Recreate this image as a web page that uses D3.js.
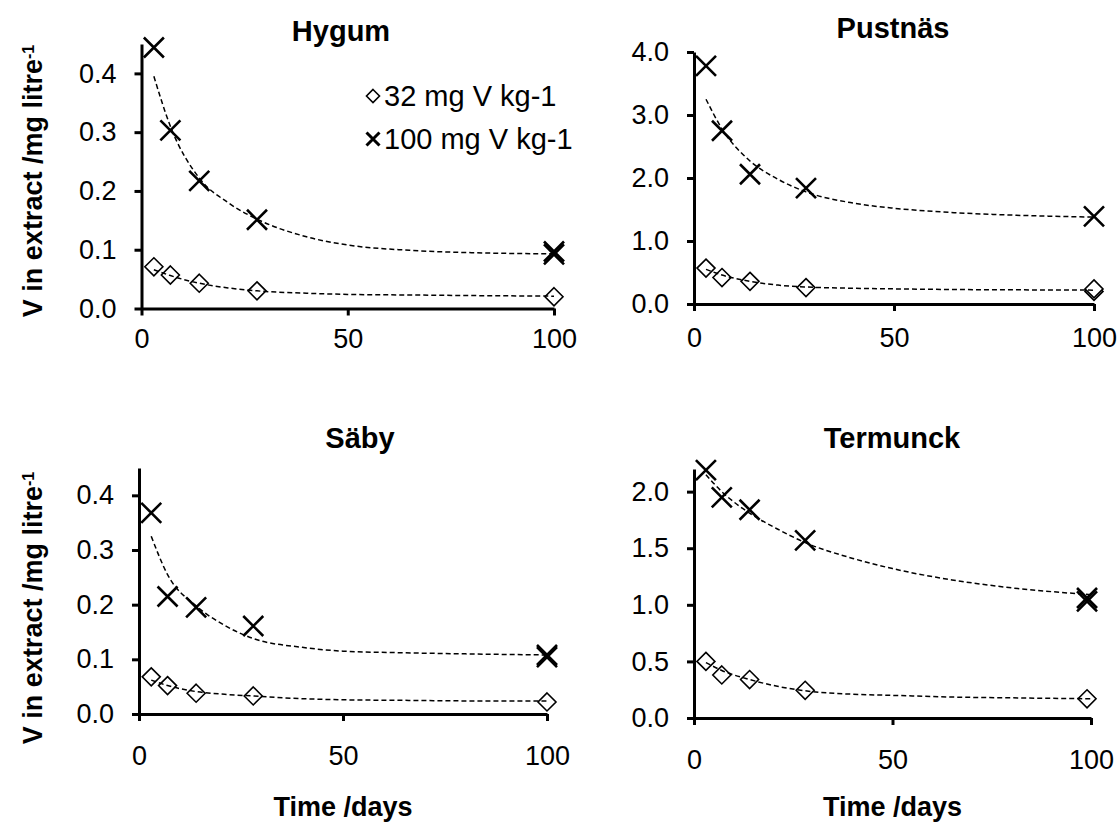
<!DOCTYPE html>
<html>
<head>
<meta charset="utf-8">
<script src="https://cdn.jsdelivr.net/npm/d3@7"></script>
<style>
  body { margin: 0; background: #fff; }
  text { font-family: "Liberation Sans", Arial, sans-serif; fill: #000; }
</style>
</head>
<body>
<div id="chart"></div>
<script>
// ---- data ----
const seriesNames = ["32 mg V kg-1", "100 mg V kg-1"];
const fitDays = [3, 7, 14, 21, 28, 40, 50, 65, 80, 100];

// Hygum
const hygumDays32 = [3, 7, 14, 28, 100];
const hygum32 = [0.071, 0.057, 0.043, 0.030, 0.020];
const hygumDays100 = [3, 7, 14, 28, 100, 100];
const hygum100 = [0.444, 0.303, 0.217, 0.151, 0.097, 0.092];
const hygumFit32 = [0.066, 0.056, 0.043, 0.035, 0.030, 0.026, 0.024, 0.023, 0.022, 0.021];
const hygumFit100 = [0.395, 0.310, 0.222, 0.180, 0.152, 0.122, 0.108, 0.099, 0.095, 0.093];

// Pustnäs
const pustnasDays32 = [3, 7, 14, 28, 100, 100];
const pustnas32 = [0.57, 0.42, 0.36, 0.26, 0.20, 0.24];
const pustnasDays100 = [3, 7, 14, 28, 100];
const pustnas100 = [3.78, 2.75, 2.06, 1.84, 1.39];
const pustnasFit32 = [0.55, 0.46, 0.36, 0.30, 0.27, 0.25, 0.24, 0.23, 0.225, 0.22];
const pustnasFit100 = [3.25, 2.78, 2.27, 1.98, 1.78, 1.60, 1.52, 1.45, 1.41, 1.38];

// Säby
const sabyDays32 = [3, 7, 14, 28, 100];
const saby32 = [0.068, 0.052, 0.038, 0.033, 0.022];
const sabyDays100 = [3, 7, 14, 28, 100, 100];
const saby100 = [0.368, 0.215, 0.195, 0.161, 0.104, 0.108];
const sabyFit32 = [0.062, 0.052, 0.041, 0.036, 0.033, 0.028, 0.026, 0.025, 0.024, 0.024];
const sabyFit100 = [0.325, 0.255, 0.198, 0.162, 0.138, 0.122, 0.115, 0.112, 0.110, 0.108];

// Termunck
const termunckDays32 = [3, 7, 14, 28, 99];
const termunck32 = [0.50, 0.38, 0.34, 0.245, 0.17];
const termunckDays100 = [3, 7, 14, 28, 99, 99];
const termunck100 = [2.19, 1.95, 1.84, 1.57, 1.03, 1.06];
const termunckFit32 = [0.49, 0.42, 0.34, 0.28, 0.24, 0.21, 0.20, 0.185, 0.178, 0.17];
const termunckFit100 = [2.15, 2.00, 1.81, 1.67, 1.55, 1.41, 1.32, 1.22, 1.15, 1.09];

const xTicks = [0, 50, 100];
const yTicksSmall = [0, 0.1, 0.2, 0.3, 0.4];
const yTicksPust = [0, 1, 2, 3, 4];
const yTicksTerm = [0, 0.5, 1, 1.5, 2];

// ---- layout ----
const W = 1117, H = 826;
const svg = d3.select("#chart").append("svg")
  .attr("width", W).attr("height", H);

const panels = [
  { title: "Hygum", days32: hygumDays32, v32: hygum32, days100: hygumDays100, v100: hygum100,
    fit32: hygumFit32, fit100: hygumFit100, yMax: 0.45, yTicks: yTicksSmall,
    left: 141.5, right: 554, bottom: 308.5, top: 44, titleX: 341, titleY: 41, xPad: 13,
    yTitleY: 181, legend: true },
  { title: "Pustnäs", days32: pustnasDays32, v32: pustnas32, days100: pustnasDays100, v100: pustnas100,
    fit32: pustnasFit32, fit100: pustnasFit100, yMax: 4, yTicks: yTicksPust,
    left: 694, right: 1094, bottom: 304, top: 52, titleX: 893, titleY: 38, xPad: 17 },
  { title: "Säby", days32: sabyDays32, v32: saby32, days100: sabyDays100, v100: saby100,
    fit32: sabyFit32, fit100: sabyFit100, yMax: 0.45, yTicks: yTicksSmall,
    left: 139, right: 547, bottom: 714, top: 468, titleX: 360, titleY: 448, xPad: 25,
    yTitleY: 608, xTitle: true },
  { title: "Termunck", days32: termunckDays32, v32: termunck32, days100: termunckDays100, v100: termunck100,
    fit32: termunckFit32, fit100: termunckFit100, yMax: 2.2, yTicks: yTicksTerm,
    left: 694, right: 1091, bottom: 718, top: 469, titleX: 892, titleY: 448, xPad: 25, xTitle: true }
];

const crossPath = s => `M${-s},${-s}L${s},${s}M${-s},${s}L${s},${-s}`;
const diamondPath = r => `M0,${-r}L${r},0L0,${r}L${-r},0Z`;

panels.forEach(p => {
  const x = d3.scaleLinear().domain([0, 100]).range([p.left, p.right]);
  const y = d3.scaleLinear().domain([0, p.yMax]).range([p.bottom, p.top]);
  const g = svg.append("g");

  // title
  g.append("text")
    .attr("x", p.titleX).attr("y", p.titleY)
    .attr("text-anchor", "middle")
    .style("font-size", "29px").style("font-weight", "bold")
    .text(p.title);

  // markers: diamonds (32) and crosses (100)
  g.selectAll(".dia")
    .data(p.v32.map((v, i) => [p.days32[i], v]))
    .join("path")
    .attr("d", diamondPath(9))
    .attr("transform", d => `translate(${x(d[0])},${y(d[1])})`)
    .attr("fill", "#fff").attr("stroke", "#000").attr("stroke-width", 1.6);

  g.selectAll(".crs")
    .data(p.v100.map((v, i) => [p.days100[i], v]))
    .join("path")
    .attr("d", crossPath(10))
    .attr("transform", d => `translate(${x(d[0])},${y(d[1])})`)
    .attr("fill", "none").attr("stroke", "#000").attr("stroke-width", 2.6);

  // dashed trend lines
  const line = d3.line()
    .x((d, i) => x(fitDays[i]))
    .y(d => y(d))
    .curve(d3.curveMonotoneX);
  [p.fit32, p.fit100].forEach(f => {
    g.append("path")
      .attr("d", line(f))
      .attr("fill", "none").attr("stroke", "#000")
      .attr("stroke-width", 1.5).attr("stroke-dasharray", "5,3");
  });

  // axes
  const yAxis = g.append("g")
    .attr("transform", `translate(${p.left},0)`)
    .call(d3.axisLeft(y).tickValues(p.yTicks).tickSize(7).tickSizeOuter(0)
      .tickPadding(18).tickFormat(d3.format(".1f")));
  const xAxis = g.append("g")
    .attr("transform", `translate(0,${p.bottom})`)
    .call(d3.axisBottom(x).tickValues(xTicks).tickSize(7).tickSizeOuter(0)
      .tickPadding(p.xPad));
  [yAxis, xAxis].forEach(a => {
    a.select(".domain").attr("stroke", "#000").attr("stroke-width", 3);
    a.selectAll(".tick line").attr("stroke", "#000").attr("stroke-width", 3);
    a.selectAll(".tick text")
      .style("font-size", "27px").style("font-family", "'Liberation Sans', Arial, sans-serif")
      .attr("fill", "#000");
  });

  // y title
  if (p.yTitleY) {
    const t = g.append("text")
      .attr("transform", `translate(42,${p.yTitleY}) rotate(-90)`)
      .attr("text-anchor", "middle")
      .style("font-size", "27px").style("font-weight", "bold");
    t.append("tspan").text("V in extract /mg litre");
    t.append("tspan").attr("baseline-shift", "super").style("font-size", "16px").text("-1");
  }

  // x title
  if (p.xTitle) {
    g.append("text")
      .attr("x", (p.left + p.right) / 2).attr("y", 816)
      .attr("text-anchor", "middle")
      .style("font-size", "27px").style("font-weight", "bold")
      .text("Time /days");
  }

  // legend
  if (p.legend) {
    const lg = g.append("g");
    seriesNames.forEach((name, i) => {
      const cy = 96 + i * 43;
      lg.append("path")
        .attr("d", i === 0 ? diamondPath(6.5) : crossPath(6.5))
        .attr("transform", `translate(373,${cy})`)
        .attr("fill", i === 0 ? "#fff" : "none")
        .attr("stroke", "#000").attr("stroke-width", i === 0 ? 1.6 : 3);
      lg.append("text")
        .attr("x", 384).attr("y", cy + 10)
        .style("font-size", "29px")
        .text(name);
    });
  }
});
</script>
</body>
</html>
